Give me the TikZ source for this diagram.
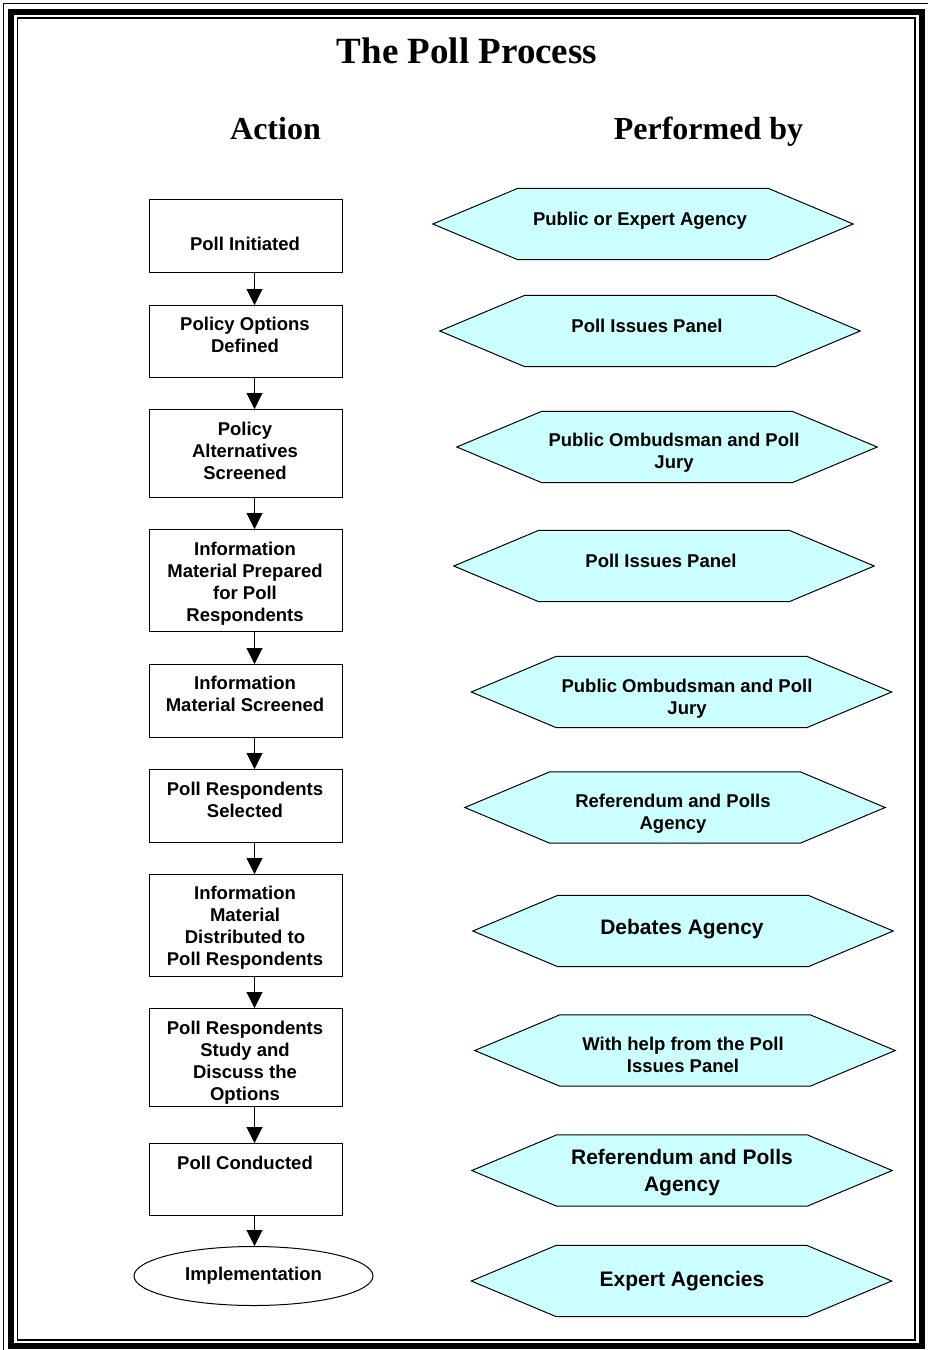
\documentclass[tikz,border=0pt]{standalone}
\usepackage{fontspec}
\setmainfont{Liberation Serif}
\setsansfont{Liberation Sans}
\usetikzlibrary{shapes.geometric,arrows.meta,positioning}
\definecolor{hexcyan}{HTML}{CCFFFF}
\newcommand{\actfont}{\sffamily\bfseries\fontsize{18.5}{22}\selectfont}
\newcommand{\bigactfont}{\sffamily\bfseries\fontsize{21}{27}\selectfont}

\begin{document}
\begin{tikzpicture}[x=1pt,y=-1pt,
  stepbox/.style={draw, line width=1pt, minimum width=193pt, anchor=north, inner sep=0pt},
  steplbl/.style={font=\actfont, align=center, anchor=north, inner sep=0pt},
  agency/.style={minimum width=250pt, minimum height=71pt, inner sep=0pt},
  agencylbl/.style={font=\actfont, align=center, anchor=north, inner sep=0pt},
  flow/.style={line width=1pt, -{Triangle[length=16pt,width=16pt]}}]
  \useasboundingbox (0,0) rectangle (928,1350);

  \draw[line width=1pt] (3.5,1350) -- (3.5,3.5) -- (928,3.5);
  \draw[line width=6pt] (11,12) rectangle (921.7,1345.8);
  \draw[line width=1.5pt] (17.5,18) rectangle (915,1340);

  \node[font=\bfseries\fontsize{37}{44}\selectfont, anchor=base] (title) at (467,63.5) {The Poll Process};
  \node[font=\bfseries\fontsize{32}{38}\selectfont, anchor=base] (colact) at (275.5,139) {Action};
  \node[font=\bfseries\fontsize{32}{38}\selectfont, anchor=base] (colwho) at (708.5,139) {Performed by};

  \node[stepbox, minimum height=73pt] (act1) at (245.5,199) {};
  \node[stepbox, minimum height=72pt] (act2) at (245.5,305) {};
  \node[stepbox, minimum height=88pt] (act3) at (245.5,409) {};
  \node[stepbox, minimum height=102pt] (act4) at (245.5,529) {};
  \node[stepbox, minimum height=73pt] (act5) at (245.5,664) {};
  \node[stepbox, minimum height=73pt] (act6) at (245.5,769) {};
  \node[stepbox, minimum height=102pt] (act7) at (245.5,874) {};
  \node[stepbox, minimum height=98pt] (act8) at (245.5,1008) {};
  \node[stepbox, minimum height=72pt] (act9) at (245.5,1143) {};
  \node[draw, ellipse, line width=1pt, minimum width=239pt, minimum height=59pt, inner sep=0pt, font=\actfont] (impl) at (253.5,1276) {Implementation};

  \node[steplbl] (lbl1) at (245,236.4) {Poll Initiated};
  \node[steplbl] (lbl2) at (245,316.4) {Policy Options\\Defined};
  \node[steplbl] (lbl3) at (245,421.4) {Policy\\Alternatives\\Screened};
  \node[steplbl] (lbl4) at (245,541.4) {Information\\Material Prepared\\for Poll\\Respondents};
  \node[steplbl] (lbl5) at (245,675.4) {Information\\Material Screened};
  \node[steplbl] (lbl6) at (245,781.4) {Poll Respondents\\Selected};
  \node[steplbl] (lbl7) at (245,885.4) {Information\\Material\\Distributed to\\Poll Respondents};
  \node[steplbl] (lbl8) at (245,1020.4) {Poll Respondents\\Study and\\Discuss the\\Options};
  \node[steplbl] (lbl9) at (245,1155.4) {Poll Conducted};

  \coordinate (axis) at (254.5,0);
  \draw[flow] (act1.south -| axis) -- (act2.north -| axis);
  \draw[flow] (act2.south -| axis) -- (act3.north -| axis);
  \draw[flow] (act3.south -| axis) -- (act4.north -| axis);
  \draw[flow] (act4.south -| axis) -- (act5.north -| axis);
  \draw[flow] (act5.south -| axis) -- (act6.north -| axis);
  \draw[flow] (act6.south -| axis) -- (act7.north -| axis);
  \draw[flow] (act7.south -| axis) -- (act8.north -| axis);
  \draw[flow] (act8.south -| axis) -- (act9.north -| axis);
  \draw[flow] (act9.south -| axis) -- (impl.north -| axis);

  \node[agency] (who1) at (643,224) {};
  \node[agency] (who2) at (650,331) {};
  \node[agency] (who3) at (667,447) {};
  \node[agency] (who4) at (664,566) {};
  \node[agency] (who5) at (681.5,692) {};
  \node[agency] (who6) at (675,807.5) {};
  \node[agency] (who7) at (683,931) {};
  \node[agency] (who8) at (685,1050.5) {};
  \node[agency] (who9) at (682,1170.5) {};
  \node[agency] (who10) at (681.5,1281) {};
  \foreach \i in {1,...,10}
    \draw[fill=hexcyan, line width=1pt] (who\i.north west) -- (who\i.north east) -- ([xshift=85pt]who\i.east)
      -- (who\i.south east) -- (who\i.south west) -- ([xshift=-85pt]who\i.west) -- cycle;

  \node[agencylbl] (wholbl1) at (640,211.4) {Public or Expert Agency};
  \node[agencylbl] (wholbl2) at (647,318.4) {Poll Issues Panel};
  \node[agencylbl] (wholbl3) at (674,432.4) {Public Ombudsman and Poll\\Jury};
  \node[agencylbl] (wholbl4) at (661,553.4) {Poll Issues Panel};
  \node[agencylbl] (wholbl5) at (687,678.4) {Public Ombudsman and Poll\\Jury};
  \node[agencylbl] (wholbl6) at (673,793.4) {Referendum and Polls\\Agency};
  \node[agencylbl, font=\bigactfont] (wholbl7) at (682,919.4) {Debates Agency};
  \node[agencylbl] (wholbl8) at (683,1036.4) {With help from the Poll\\Issues Panel};
  \node[agencylbl, font=\bigactfont] (wholbl9) at (682,1149.4) {Referendum and Polls\\Agency};
  \node[agencylbl, font=\bigactfont] (wholbl10) at (682,1271.4) {Expert Agencies};
\end{tikzpicture}
\end{document}
